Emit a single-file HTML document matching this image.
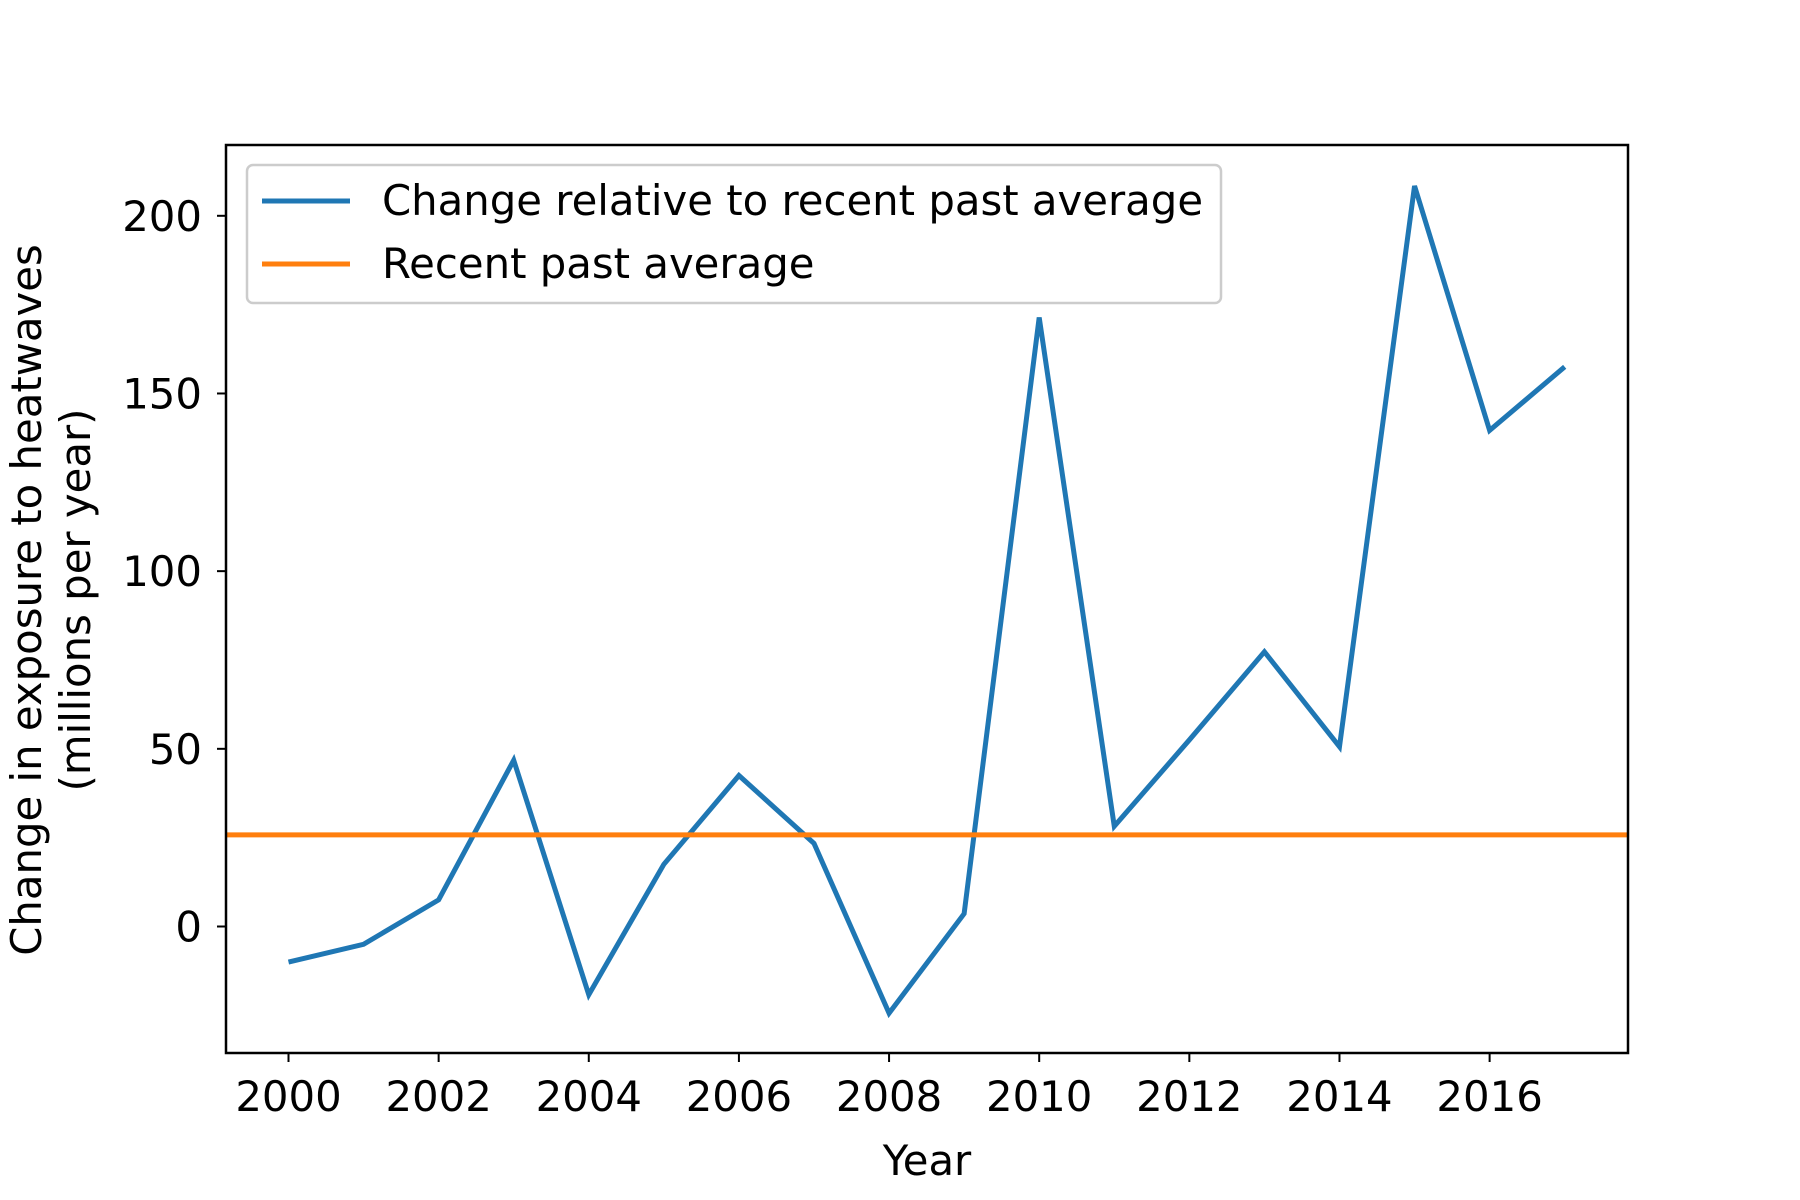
<!DOCTYPE html>
<html><head><meta charset="utf-8"><style>
html,body{margin:0;padding:0;background:#fff;}
svg{display:block;font-family:"DejaVu Sans","Liberation Sans",sans-serif;}
</style></head><body>
<svg id="chart" width="1800" height="1200" viewBox="0 0 1800 1200">
<rect x="0" y="0" width="1800" height="1200" fill="#fff"/>
<g id="plot"></g>
</svg>
<script>
const years = [2000,2001,2002,2003,2004,2005,2006,2007,2008,2009,2010,2011,2012,2013,2014,2015,2016,2017];
const changeValues = [-10,-5,7.5,46.8,-19.2,17.5,42.5,23.4,-24.4,3.6,171.4,28.2,52.5,77.3,50.6,208.4,139.6,157.5];
const averageValue = [25.8];
const xTicks = [2000,2002,2004,2006,2008,2010,2012,2014,2016];
const yTicks = [0,50,100,150,200];

const L=226,R=1628,T=145,B=1053;
const FS=41.8;
function xs(v){return 288.5+(v-2000)*75.07;}
function ys(v){return 926.5-v*3.5535;}
const NS="http://www.w3.org/2000/svg";
const g=document.getElementById('plot');
function mk(tag,attrs,parent){const e=document.createElementNS(NS,tag);for(const k in attrs)e.setAttribute(k,attrs[k]);(parent||g).appendChild(e);return e;}

xTicks.forEach(t=>{
  const l=mk('line',{x1:xs(t),x2:xs(t),y1:B,y2:B+9,stroke:'#000','stroke-width':2});
  
  
  const tx=mk('text',{x:xs(t),y:B+58,'font-size':FS,'text-anchor':'middle',fill:'#000'});
  tx.textContent=t;
  
  
});
yTicks.forEach(t=>{
  const l=mk('line',{x1:L-9,x2:L,y1:ys(t),y2:ys(t),stroke:'#000','stroke-width':2});
  
  
  const tx=mk('text',{x:L-24,y:ys(t)+15,'font-size':FS,'text-anchor':'end',fill:'#000'});
  tx.textContent=t;
  
  
});

const pts=years.map((y,i)=>xs(y)+','+ys(changeValues[i])).join(' ');
const line=mk('polyline',{points:pts,fill:'none',stroke:'#1f77b4','stroke-width':5,'stroke-linejoin':'miter'});


const avg=mk('line',{x1:L,x2:R,y1:ys(averageValue[0]),y2:ys(averageValue[0]),stroke:'#ff7f0e','stroke-width':5});



const fr=mk('rect',{x:L,y:T,width:R-L,height:B-T,fill:'none',stroke:'#000','stroke-width':2.5});



const lg=mk('g',{});


mk('rect',{x:247,y:165,width:974,height:138,rx:6,fill:'#fff','fill-opacity':0.85,stroke:'#ccc','stroke-width':2.5},lg);
mk('line',{x1:262,x2:350,y1:201,y2:201,stroke:'#1f77b4','stroke-width':5},lg);
mk('line',{x1:262,x2:350,y1:264,y2:264,stroke:'#ff7f0e','stroke-width':5},lg);
const t1=mk('text',{x:382,y:215,'font-size':FS,fill:'#000'},lg);t1.textContent='Change relative to recent past average';


const t2=mk('text',{x:382,y:278,'font-size':FS,fill:'#000'},lg);t2.textContent='Recent past average';



const xt=mk('text',{x:(L+R)/2,y:1175,'font-size':FS,'text-anchor':'middle',fill:'#000'});
xt.textContent='Year';


const yt=mk('text',{transform:'translate(41,600) rotate(-90)','font-size':FS,'text-anchor':'middle',fill:'#000'});


const s1=mk('tspan',{x:0,y:0},yt);s1.textContent='Change in exposure to heatwaves';
const s2=mk('tspan',{x:0,y:49},yt);s2.textContent='(millions per year)';
</script>
</body></html>
